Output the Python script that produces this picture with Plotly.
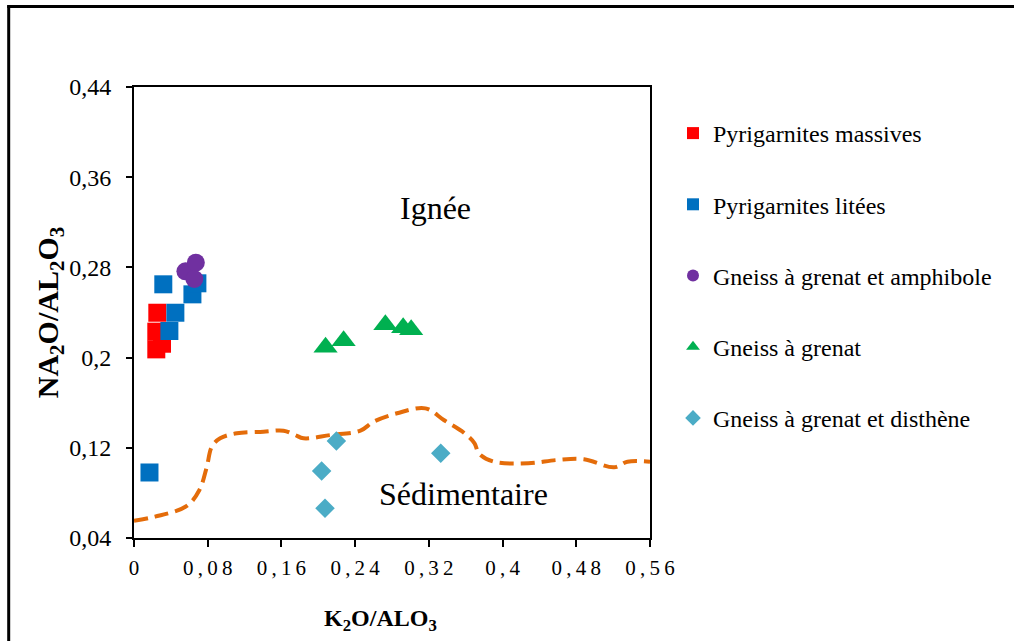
import plotly.graph_objects as go

# ---- data ----
massives_x = [0.0253, 0.0242, 0.0242, 0.0304]
massives_y = [0.2398, 0.2230, 0.2073, 0.2123]

litees_x = [0.0318, 0.0634, 0.0449, 0.0384, 0.0688, 0.0168]
litees_y = [0.2650, 0.2561, 0.2398, 0.2236, 0.2659, 0.0981]

amph_x = [0.0558, 0.0671, 0.0655]
amph_y = [0.2765, 0.2842, 0.2697]

grenat_x = [0.2079, 0.2275, 0.2728, 0.2921, 0.3008]
grenat_y = [0.2091, 0.2150, 0.2292, 0.2265, 0.2248]

disth_x = [0.2196, 0.2036, 0.2073, 0.3329]
disth_y = [0.1260, 0.0994, 0.0663, 0.1151]

limit_x = [0.0, 0.0228, 0.0573, 0.0710, 0.0790, 0.0845, 0.0935, 0.1116, 0.1405,
           0.1623, 0.1750, 0.1840, 0.2130, 0.2457, 0.2601, 0.2855, 0.3163, 0.3362,
           0.3580, 0.3696, 0.3742, 0.3905, 0.4279, 0.4594, 0.4884, 0.5210, 0.5355, 0.56]
limit_y = [0.0553, 0.0589, 0.0684, 0.0826, 0.1032, 0.1210, 0.1284, 0.1329, 0.1343,
           0.1352, 0.1313, 0.1284, 0.1313, 0.1352, 0.1432, 0.1506, 0.1550, 0.1447,
           0.1334, 0.1240, 0.1151, 0.1077, 0.1063, 0.1092, 0.1098, 0.1027, 0.1077, 0.1077]

x_ticks = [0, 0.08, 0.16, 0.24, 0.32, 0.40, 0.48, 0.56]
x_ticktext = ["0", "0,08", "0,16", "0,24", "0,32", "0,4", "0,48", "0,56"]
y_ticks = [0.04, 0.12, 0.20, 0.28, 0.36, 0.44]
y_ticktext = ["0,04", "0,12", "0,2", "0,28", "0,36", "0,44"]

SP = "\u2009"
x_ticktext_spaced = [SP.join(list(t)) for t in x_ticktext]

FONT = "Liberation Serif, Times New Roman, serif"

fig = go.Figure()

fig.add_trace(go.Scatter(
    x=limit_x, y=limit_y, mode="lines", line_shape="spline",
    line=dict(color="#E46C0A", width=4, dash="14px,7px"),
    showlegend=False, hoverinfo="skip"))

series = [
    ("Pyrigarnites massives", massives_x, massives_y, "square", "#FF0000", 18),
    ("Pyrigarnites litées", litees_x, litees_y, "square", "#0070C0", 18),
    ("Gneiss à grenat et amphibole", amph_x, amph_y, "circle", "#7030A0", 18),
    ("Gneiss à grenat", grenat_x, grenat_y, "triangle-up", "#00B050", 21),
    ("Gneiss à grenat et disthène", disth_x, disth_y, "diamond", "#4BACC6", 15),
]
for i, (name, xs, ys, sym, col, sz) in enumerate(series):
    fig.add_trace(go.Scatter(
        x=xs, y=ys, mode="markers", name=name, legendgroup=f"g{i}",
        marker=dict(symbol=sym, color=col, size=sz, line=dict(width=0))))

fig.add_annotation(x=0.327, y=0.3327, text="Ignée", showarrow=False,
                   font=dict(family=FONT, size=32, color="black"))
fig.add_annotation(x=0.3576, y=0.079, text="Sédimentaire", showarrow=False,
                   font=dict(family=FONT, size=32, color="black"))

# outer chart frame (left and top edges visible)
L, R, T, B = 134, 650, 87, 538
def px_x(p):
    return (p - L) / (R - L)
def px_y(p):
    return (B - p) / (B - T)

# x-axis title placed as in the reference (slightly left of the axis centre)
fig.add_annotation(xref="paper", yref="paper", x=px_x(380), y=px_y(620),
                   xanchor="center", yanchor="middle", showarrow=False,
                   text="<b>K<sub>2</sub>O/ALO<sub>3</sub></b>",
                   font=dict(family=FONT, size=24, color="black"))

fig.add_shape(type="line", xref="paper", yref="paper",
              x0=px_x(8.7), x1=px_x(8.7), y0=px_y(5.2), y1=px_y(700),
              line=dict(color="black", width=3))
fig.add_shape(type="line", xref="paper", yref="paper",
              x0=px_x(7.2), x1=px_x(1100), y0=px_y(6.5), y1=px_y(6.5),
              line=dict(color="black", width=3))

fig.update_layout(
    width=1014, height=641,
    margin=dict(l=L, r=1014 - R, t=T, b=641 - B, autoexpand=False),
    paper_bgcolor="white", plot_bgcolor="white",
    font=dict(family=FONT, size=24, color="black"),
    showlegend=True,
    legend=dict(x=px_x(673), y=px_y(111), xanchor="left", yanchor="top",
                tracegroupgap=37, font=dict(family=FONT, size=24, color="black"),
                bgcolor="rgba(0,0,0,0)", itemsizing="constant"),
    xaxis=dict(range=[0, 0.56], tickvals=x_ticks, ticktext=x_ticktext_spaced,
               showgrid=False, zeroline=False, showline=True, linecolor="black",
               linewidth=2, mirror=True, ticks="outside", ticklen=7, tickwidth=2,
               tickcolor="black", ticklabelstandoff=3,
               tickfont=dict(family=FONT, size=21, color="black")),
    yaxis=dict(range=[0.04, 0.44], tickvals=y_ticks, ticktext=y_ticktext,
               showgrid=False, zeroline=False, showline=True, linecolor="black",
               linewidth=2, mirror=True, ticks="outside", ticklen=6, tickwidth=2,
               tickcolor="black", ticklabelstandoff=10,
               tickfont=dict(family=FONT, size=24, color="black"),
               title=dict(text="<b>NA<sub>2</sub>O/AL<sub>2</sub>O<sub>3</sub></b>",
                          font=dict(family=FONT, size=30), standoff=2)),
)

fig.write_html("out.html", config={"displayModeBar": False},
               post_script="document.body.style.margin='0px';")
